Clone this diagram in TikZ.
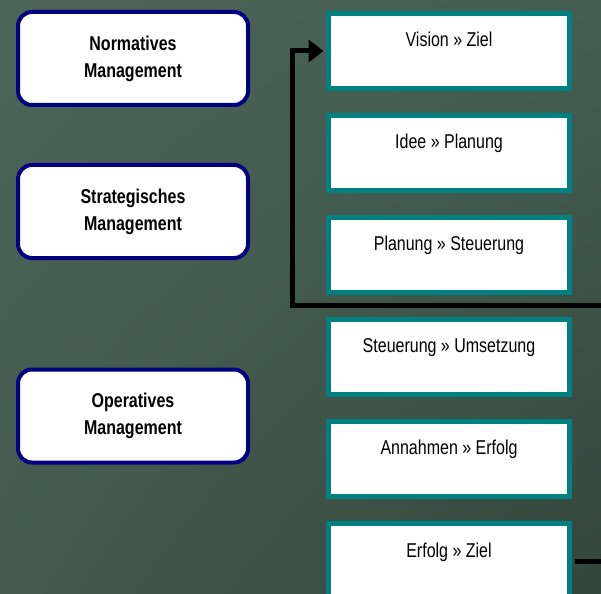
\documentclass[tikz,border=0pt]{standalone}
\usepackage{fontspec}
\setmainfont[FakeStretch=0.8]{Liberation Sans}
\usetikzlibrary{arrows.meta,shadings}
\definecolor{bgul}{RGB}{76,100,88}
\definecolor{bgur}{RGB}{70,94,82}
\definecolor{bgll}{RGB}{68,90,78}
\definecolor{bglr}{RGB}{50,70,60}
\definecolor{boxteal}{RGB}{0,128,128}
\definecolor{boxnavy}{RGB}{0,0,128}
\tikzset{
  levelbox/.style={draw=boxnavy, line width=4pt, fill=white, rounded corners=14pt,
    minimum width=230pt, minimum height=93pt, inner sep=0pt, align=center,
    font=\fontsize{20}{27}\selectfont\bfseries},
  phasebox/.style={draw=boxteal, line width=5pt, fill=white,
    minimum width=241pt, minimum height=75pt, inner sep=0pt,
    text height=14pt, text depth=22pt, font=\fontsize{20}{24}\selectfont},
  loopline/.style={draw=black, line width=5pt, line join=miter,
    -{Triangle[length=15pt,width=22pt]}}
}
\begin{document}
\begin{tikzpicture}[x=1pt,y=-1pt]
\useasboundingbox (0,0) rectangle (601,593);
\clip (0,0) rectangle (601,593);
\shade[upper left=bgul, upper right=bgur, lower left=bgll, lower right=bglr] (0,0) rectangle (601,593);

\node[levelbox] (norm) at (133,58.5) {Normatives\\Management};
\node[levelbox] (strat) at (133,211.5) {Strategisches\\Management};
\node[levelbox] (oper) at (133,416) {Operatives\\Management};

\node[phasebox] (vision) at (449,51) {Vision » Ziel};
\node[phasebox] (idee) at (449,153) {Idee » Planung};
\node[phasebox] (planung) at (449,255) {Planung » Steuerung};
\node[phasebox] (steuer) at (449,356.5) {Steuerung » Umsetzung};
\node[phasebox] (annahm) at (449,458.5) {Annahmen » Erfolg};
\node[phasebox] (erfolg) at (449,561) {Erfolg » Ziel};

\coordinate (rturn) at (640,305);
\coordinate (lturn) at (292.5,305);
\draw[loopline, shorten <=2.5pt, shorten >=2.5pt]
  (erfolg.east) -| (rturn) -- (lturn) |- (vision.west);
\end{tikzpicture}
\end{document}
